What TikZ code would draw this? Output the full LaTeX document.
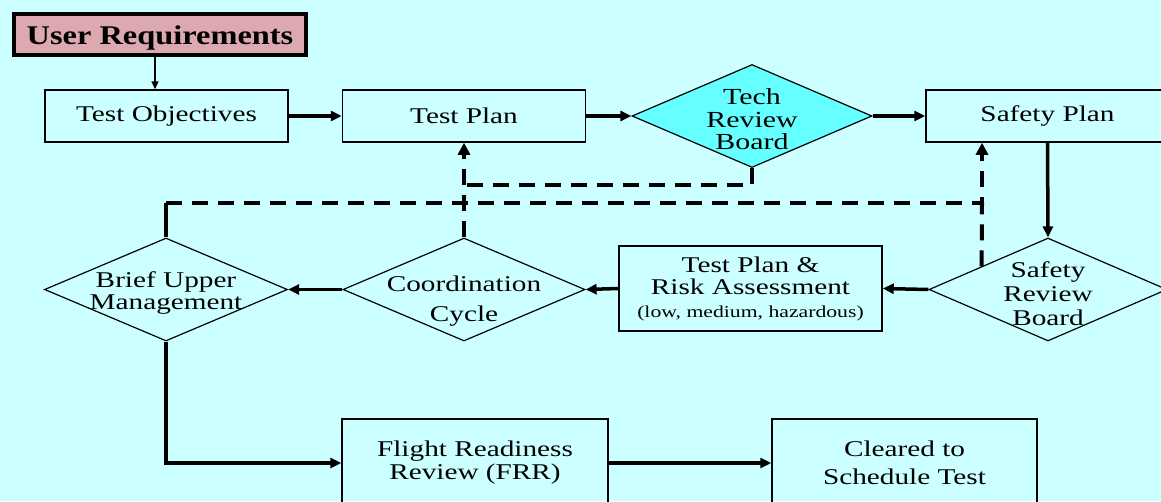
\documentclass[tikz,border=0pt]{standalone}
\usepackage{fontspec}
\setmainfont{Liberation Serif}[FakeStretch=1.3]
\newfontfamily\urfont{Liberation Serif}[FakeStretch=1.2]
\usetikzlibrary{shapes.geometric,arrows.meta,calc}
\definecolor{bgc}{HTML}{CCFFFF}
\definecolor{pinkf}{HTML}{DDA9B0}
\definecolor{cyanf}{HTML}{66FFFF}
\newcommand\dtxt[2]{\smash{\makebox[0pt]{\raisebox{#1}{\begin{tabular}{@{}c@{}}#2\end{tabular}}}}}
\begin{document}
\begin{tikzpicture}[x=1pt,y=-1pt,
  box/.style={draw=black, line width=1.5pt, rectangle, inner sep=0pt, align=center,
    font=\fontsize{22.5}{23}\selectfont},
  dia/.style={draw=black, line width=1.2pt, diamond, inner sep=0pt, aspect=1},
  flow/.style={line width=3.5pt, -{Triangle[length=11pt,width=10pt]}},
  dashln/.style={line width=4pt, dash pattern=on 16pt off 10pt},
  dtip/.style={-{Triangle[length=12pt,width=12pt]}},
]
\useasboundingbox (0,0) rectangle (1161,501);
\clip (0,0) rectangle (1161,501);
\fill[bgc] (0,0) rectangle (1161,501);

\node[box, fill=pinkf, line width=4pt, minimum width=292pt, minimum height=41pt,
  font=\urfont\fontsize{27}{28}\selectfont\bfseries] (ur) at (160,34.5)
  {\smash{\raisebox{-9.5pt}{User Requirements}}};
\node[box, minimum width=243pt, minimum height=52pt] (to) at (166.5,116) {Test Objectives};
\node[box, minimum width=243pt, minimum height=52pt] (tp) at (464,116) {Test Plan};
\node[dia, fill=cyanf, minimum width=240pt, minimum height=103pt,
  font=\fontsize{23}{22.5}\selectfont] (trb) at (752,116) {\dtxt{-13pt}{Tech\\Review\\Board}};
\node[box, minimum width=243pt, minimum height=52pt] (sp) at (1047.5,116) {Safety Plan};
\node[dia, minimum width=238pt, minimum height=103pt,
  font=\fontsize{22.5}{24}\selectfont] (srb) at (1048,289.5) {\dtxt{-12.5pt}{Safety\\Review\\Board}};
\node[box, minimum width=263pt, minimum height=85pt, font=\fontsize{22.5}{22.5}\selectfont]
  (tpra) at (750.5,288.5) {Test Plan \&\\Risk Assessment\\{\fontsize{16.7}{22.5}\selectfont (low, medium, hazardous)}};
\node[dia, minimum width=242pt, minimum height=103pt,
  font=\fontsize{22.5}{30}\selectfont] (cc) at (464,289.5) {\dtxt{-16pt}{Coordination\\Cycle}};
\node[dia, minimum width=243pt, minimum height=103pt,
  font=\fontsize{22.5}{22}\selectfont] (bum) at (166,289.5) {\dtxt{-9.5pt}{Brief Upper\\Management}};
\node[box, minimum width=266pt, minimum height=88pt] (frr) at (475,463) {Flight Readiness\\Review (FRR)};
\node[box, minimum width=265pt, minimum height=88pt, font=\fontsize{22.5}{28}\selectfont]
  (cst) at (904.5,463) {Cleared to\\Schedule Test};

\draw[line width=1.5pt, -{Triangle[length=8pt,width=7pt]}]
  ([xshift=-5pt]ur.south) -- ([xshift=-5pt]ur.south |- to.north);
\draw[flow] (to.east) -- (tp.west);
\draw[flow] (tp.east) -- (trb.west);
\draw[flow] (trb.east) -- (sp.west);
\draw[flow] (sp.south) -- (srb.north);
\draw[flow] (srb.west) -- (tpra.east);
\draw[flow] (tpra.west) -- (cc.east);
\draw[flow] (cc.west) -- (bum.east);
\draw[flow] (bum.south) |- (frr.west);
\draw[flow] (frr.east) -- (cst.west);

\coordinate (j1) at (464,185);
\coordinate (j4) at (166,203);
\coordinate (j2) at (982,203);
\coordinate (j3) at ($(srb.west)!0.445!(srb.north)$);
\draw[dashln] (trb.south) |- (j1);
\draw[dashln, dtip] (cc.north) -- (tp.south);
\draw[line width=4pt] (bum.north) -- (j4);
\draw[dashln, dtip] (j4) -- (j2) -- (j2 |- sp.south);
\draw[dashln] (j3) -- (j2);
\end{tikzpicture}
\end{document}
